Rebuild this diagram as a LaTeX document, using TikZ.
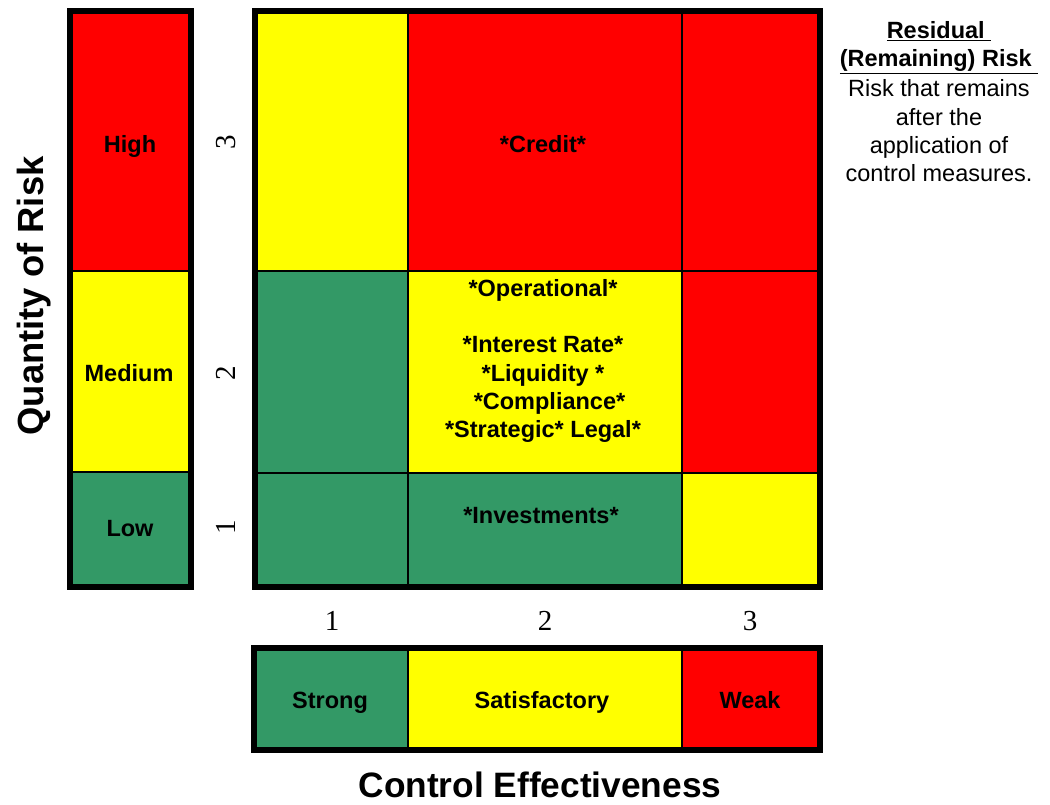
\documentclass[tikz,border=0pt]{standalone}
\usepackage{fontspec}
\setmainfont{Liberation Sans}
\newfontfamily\numfont{Liberation Serif}
\definecolor{riskred}{HTML}{FF0000}
\definecolor{riskyellow}{HTML}{FFFF00}
\definecolor{riskgreen}{HTML}{339966}
\begin{document}
\begin{tikzpicture}[x=1pt,y=-1pt,
  frame/.style={draw=black,line width=6pt},
  divider/.style={draw=black,line width=2pt},
  thindiv/.style={draw=black,line width=1.3pt},
  lbl/.style={font=\fontsize{23.5}{28.3}\selectfont\bfseries,align=center,inner sep=0pt},
  num/.style={font=\fontsize{29}{32}\numfont,inner sep=0pt},
  axis/.style={font=\fontsize{36.4}{40}\selectfont\bfseries,inner sep=0pt},
  note/.style={font=\fontsize{23.5}{28.3}\selectfont,align=center,inner sep=0pt}]
\useasboundingbox (0,0) rectangle (1050,804);

% ---- quantity of risk scale (left column)
\fill[riskred]    (70,10.5) rectangle (191,271);
\fill[riskyellow] (70,271)  rectangle (191,472);
\fill[riskgreen]  (70,472)  rectangle (191,587);
\draw[thindiv] (70,271) -- (191,271);
\draw[thindiv] (70,472) -- (191,472);
\draw[frame] (70,10.5) rectangle (191,587);
\node[lbl,anchor=base] (high) at (130,152) {High};
\node[lbl,anchor=base] (medium) at (129,381.5) {Medium};
\node[lbl,anchor=base] (low) at (130,536.5) {Low};

% ---- row numbers
\node[num,rotate=90] (r3) at (226,142) {3};
\node[num,rotate=90] (r2) at (226,373) {2};
\node[num,rotate=90] (r1) at (226,527) {1};

% ---- residual risk grid
\fill[riskyellow] (255,10.5) rectangle (408,271);
\fill[riskred]    (408,10.5) rectangle (820,271);
\fill[riskgreen]  (255,271)  rectangle (408,473);
\fill[riskyellow] (408,271)  rectangle (682,473);
\fill[riskred]    (682,271)  rectangle (820,473);
\fill[riskgreen]  (255,473)  rectangle (682,587);
\fill[riskyellow] (682,473)  rectangle (820,587);
\draw[divider] (408,10.5) -- (408,587);
\draw[divider] (682,10.5) -- (682,587);
\draw[divider] (255,271) -- (820,271);
\draw[divider] (255,473) -- (820,473);
\draw[frame] (255,10.5) rectangle (820,587);

\node[lbl,anchor=base] (credit) at (543,152.5) {*Credit*};
\node[lbl,anchor=north] (midrisks) at (543,279)
  {*Operational*\\[0pt] \\
   *Interest Rate*\\
   *Liquidity *\\
   \hspace{13pt}*Compliance*\\
   *Strategic* Legal*};
\node[lbl,anchor=base] (invest) at (541,523.5) {*Investments*};

% ---- column numbers
\node[num,anchor=base] (c1) at (332,630) {1};
\node[num,anchor=base] (c2) at (545,630) {2};
\node[num,anchor=base] (c3) at (750,630) {3};

% ---- control effectiveness scale
\fill[riskgreen]  (254,648) rectangle (408,750);
\fill[riskyellow] (408,648) rectangle (682,750);
\fill[riskred]    (682,648) rectangle (820,750);
\draw[thindiv] (408,648) -- (408,750);
\draw[thindiv] (682,648) -- (682,750);
\draw[frame] (254,648) rectangle (820,750);
\node[lbl,anchor=base] (strong) at (330,708.5) {Strong};
\node[lbl,anchor=base] (satis) at (542,708.5) {Satisfactory};
\node[lbl,anchor=base] (weak) at (750,708.5) {Weak};

% ---- axis titles
\node[axis,rotate=90] (yaxis) at (34,296) {Quantity of Risk};
\node[axis,font=\fontsize{35.3}{40}\selectfont\bfseries,anchor=base] (xaxis) at (540,797) {Control Effectiveness};

% ---- definition note
\node[note,anchor=north] (defn) at (939,21)
  {\textbf{\underline{Residual\ }}\\
   \textbf{\underline{(Remaining) Risk\ }}\\[2pt]
   Risk that remains\\
   after the\\
   application of\\
   control measures.};
\end{tikzpicture}
\end{document}
